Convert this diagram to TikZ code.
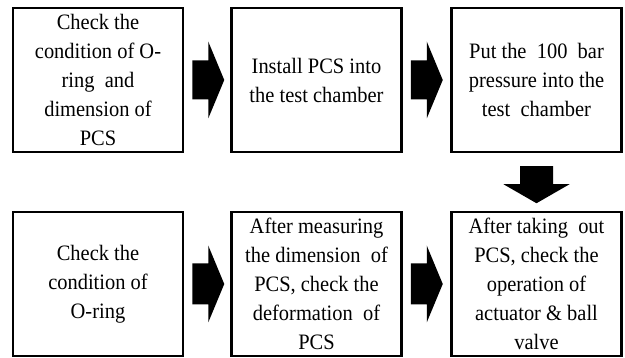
\documentclass[tikz,border=0pt]{standalone}
\usepackage{fontspec}
\setmainfont[FakeStretch=0.93]{Liberation Serif}
\usepackage{tikz}
\usetikzlibrary{calc}

\tikzset{
  stepbox/.style={draw=black, line width=2.5pt, minimum width=170pt, minimum height=144pt,
    inner sep=0pt, align=center, font=\fontsize{22}{29}\selectfont},
}

\begin{document}
\begin{tikzpicture}[x=1pt,y=1pt]
        \useasboundingbox (0,0) rectangle (625,-358);
        % top row
        \node [stepbox] (b1) at (98,-80) {Check the\\condition of O-\\ring\ \ and\\dimension of\\PCS};
        \node [stepbox] (b2) at (316.5,-80) {Install PCS into\\the test chamber};
        \node [stepbox] (b3) at (536.5,-80) {Put the\ \ 100\ \ bar\\pressure into the\\test\ \ chamber};
        % bottom row
        \node [stepbox] (b4) at (98,-284) {Check the\\condition of\\O-ring};
        \node [stepbox] (b5) at (316.5,-284) {After measuring\\the dimension\ \ of\\PCS, check the\\deformation\ \ of\\PCS};
        \node [stepbox] (b6) at (536.5,-284) {After taking\ \ out\\PCS, check the\\operation of\\actuator \& ball\\valve};
        % block arrows
        \fill [black] ([xshift=8pt]b1.east) ++(0,19.5) -- ++(16,0) -- ++(0,19) -- ++(16,-38.5)
            -- ++(-16,-38.5) -- ++(0,19) -- ++(-16,0) -- cycle;
        \fill [black] ([xshift=8pt]b2.east) ++(0,19.5) -- ++(16,0) -- ++(0,19) -- ++(16,-38.5)
            -- ++(-16,-38.5) -- ++(0,19) -- ++(-16,0) -- cycle;
        \fill [black] ([xshift=8pt]b4.east) ++(0,20.5) -- ++(16,0) -- ++(0,18) -- ++(16,-38.5)
            -- ++(-16,-38.5) -- ++(0,18) -- ++(-16,0) -- cycle;
        \fill [black] ([xshift=8pt]b5.east) ++(0,20.5) -- ++(16,0) -- ++(0,18) -- ++(16,-38.5)
            -- ++(-16,-38.5) -- ++(0,18) -- ++(-16,0) -- cycle;
        \fill [black] ([yshift=-13pt]b3.south) ++(-16.5,0) -- ++(0,-18) -- ++(-16.5,0) -- ++(33,-19)
            -- ++(33,19) -- ++(-16.5,0) -- ++(0,18) -- cycle;
\end{tikzpicture}
\end{document}
